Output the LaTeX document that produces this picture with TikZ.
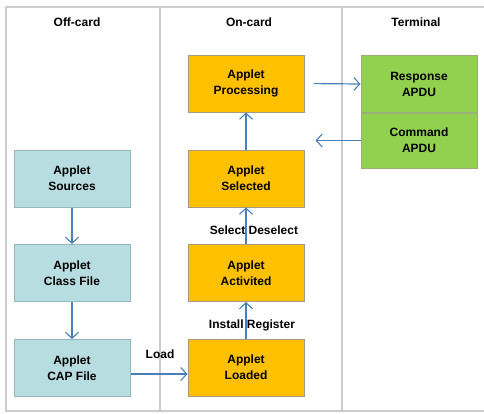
\documentclass[tikz,border=0pt]{standalone}
\usepackage{fontspec}
\setmainfont{Liberation Sans}
\usetikzlibrary{arrows.meta}
\definecolor{frame}{HTML}{CCCCCC}
\definecolor{bluebox}{HTML}{B7DDE0}
\definecolor{blueedge}{HTML}{94B9BF}
\definecolor{orangebox}{HTML}{FFC000}
\definecolor{orangeedge}{HTML}{A89A80}
\definecolor{greenbox}{HTML}{92D050}
\definecolor{greenedge}{HTML}{9AB07A}
\definecolor{arrowblue}{HTML}{4A80B8}
\tikzset{
  box/.style={draw, line width=1pt, minimum width=116pt, minimum height=57pt, inner sep=0pt, align=center,
    font=\fontsize{12pt}{16pt}\selectfont\bfseries},
  offbox/.style={box, fill=bluebox, draw=blueedge},
  onbox/.style={box, fill=orangebox, draw=orangeedge},
  termbox/.style={box, fill=greenbox, draw=greenedge},
  flow/.style={draw=arrowblue, line width=1.2pt, -{Straight Barb[length=6pt,width=13pt,line width=1.1pt]}},
  head/.style={font=\fontsize{12pt}{14pt}\selectfont\bfseries},
  lbl/.style={font=\fontsize{12pt}{14pt}\selectfont\bfseries, inner sep=0pt},
  frameline/.style={draw=frame, line width=1.5pt}
}
\begin{document}
\begin{tikzpicture}[x=1pt,y=-1pt]
\useasboundingbox (0,0) rectangle (484,413);
\fill[white] (0,0) rectangle (484,413);
% frame
\draw[frameline] (486,7) -- (6,7) -- (6,411) -- (486,411);
\draw[frameline] (160,7) -- (160,411);
\draw[frameline] (342,7) -- (342,411);
% headers
\node[head] (h1) at (77,22) {Off-card};
\node[head] (h2) at (249,22) {On-card};
\node[head] (h3) at (416,22) {Terminal};
% off-card
\node[offbox] (src) at (72,178.5) {Applet\\Sources};
\node[offbox] (cls) at (72,273) {Applet\\Class File};
\node[offbox] (cap) at (72,368) {Applet\\CAP File};
% on-card
\node[onbox] (proc) at (246,83.5) {Applet\\Processing};
\node[onbox] (sel) at (246,178.5) {Applet\\Selected};
\node[onbox] (act) at (246,273) {Applet\\Activited};
\node[onbox] (load) at (246,367.5) {Applet\\Loaded};
% terminal
\node[termbox] (resp) at (419,84) {Response\\APDU};
\node[termbox, minimum height=55pt] (cmd) at (419,140.5) {Command\\APDU};
% labels
\node[lbl] (lload) at (160,354) {Load};
\node[lbl] (lsel) at (254,230) {Select Deselect};
\node[lbl] (linst) at (252,325) {Install Register};
% connectors
\draw[flow] (src) -- (cls);
\draw[flow] (cls) -- (cap);
\draw[flow] (cap.east |- 0,374) coordinate (capout) -- (load.west |- capout);
\draw[flow] (load) -- (act);
\draw[flow] (act) -- (sel);
\draw[flow] (sel) -- (proc);
\draw[flow, shorten <=9pt] (proc.east) -- (resp.west);
\coordinate (cmdin) at (proc.east |- cmd.west);
\draw[flow, shorten >=11pt] (cmd.west) -- (cmdin);
\end{tikzpicture}
\end{document}
